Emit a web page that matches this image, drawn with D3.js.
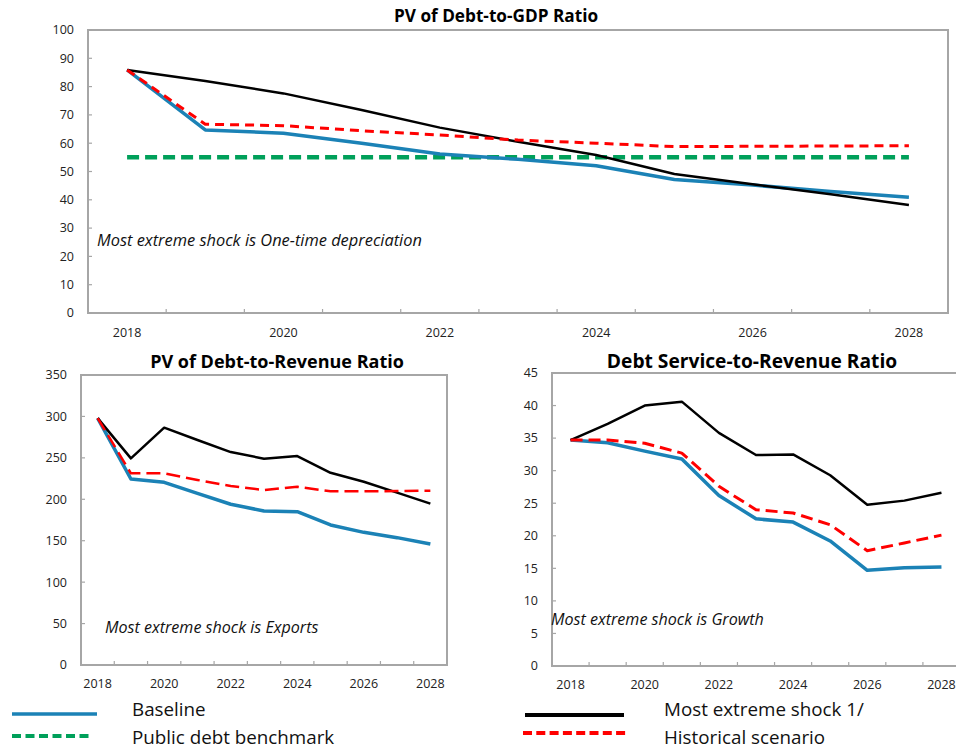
<!DOCTYPE html>
<html>
<head>
<meta charset="utf-8">
<script src="https://cdn.jsdelivr.net/npm/d3@7"></script>
<style>
  html, body { margin: 0; padding: 0; background: #fff; }
  svg { display: block; font-family: "Open Sans", "Noto Sans", sans-serif; }
</style>
</head>
<body>
<svg id="chart" width="956" height="750"></svg>
<script>
// ---------- Data ----------
const years = [2018, 2019, 2020, 2021, 2022, 2023, 2024, 2025, 2026, 2027, 2028];
const xTickLabels = [2018, 2020, 2022, 2024, 2026, 2028];

// PV of Debt-to-GDP Ratio
const gdpBaseline = [85.9, 64.7, 63.5, 60.0, 56.2, 54.3, 52.0, 47.2, 45.2, 42.9, 40.9];
const gdpShock    = [85.9, 82.0, 77.6, 71.7, 65.5, 60.5, 55.8, 49.1, 45.5, 42.0, 38.2];
const gdpHist     = [85.9, 66.7, 66.2, 64.4, 62.9, 61.1, 60.0, 58.8, 58.9, 59.0, 59.1];
const gdpBench    = [55, 55, 55, 55, 55, 55, 55, 55, 55, 55, 55];
const gdpTicks    = [0, 10, 20, 30, 40, 50, 60, 70, 80, 90, 100];

// PV of Debt-to-Revenue Ratio
const revBaseline = [298, 224.5, 220.5, 207.2, 194.0, 185.9, 185.0, 169.0, 160.1, 153.7, 146.0];
const revShock    = [298, 249.4, 286.4, 271.5, 257.0, 249.0, 252.2, 232.0, 221.2, 208.0, 194.7];
const revHist     = [298, 231.3, 231.3, 223.3, 216.0, 211.2, 215.2, 209.6, 209.6, 210.0, 210.4];
const revTicks    = [0, 50, 100, 150, 200, 250, 300, 350];

// Debt Service-to-Revenue Ratio
const dsBaseline = [34.7, 34.3, 33.0, 31.8, 26.2, 22.6, 22.1, 19.2, 14.7, 15.1, 15.2];
const dsShock    = [34.7, 37.2, 40.0, 40.6, 35.8, 32.4, 32.5, 29.3, 24.75, 25.4, 26.6];
const dsHist     = [34.7, 34.7, 34.2, 32.7, 27.6, 24.0, 23.5, 21.7, 17.7, 18.9, 20.1];
const dsTicks    = [0, 5, 10, 15, 20, 25, 30, 35, 40, 45];

const legendLabels = ["Baseline", "Public debt benchmark", "Most extreme shock 1/", "Historical scenario"];

// ---------- Styles ----------
const BLUE = "#1b82b6", GREEN = "#00a05a", RED = "#ff0000", BLACK = "#000000", FRAME = "#a6a6a6";

const svg = d3.select("#chart");

function panel(cfg) {
  const g = svg.append("g");
  const x = d3.scaleBand().domain(years).range([cfg.x0, cfg.x1]).padding(0);
  const y = d3.scaleLinear().domain([0, cfg.ymax]).range([cfg.y1, cfg.y0]);
  const cx = d => x(d) + x.bandwidth() / 2;

  // frame
  g.append("rect")
    .attr("x", cfg.x0).attr("y", cfg.y0)
    .attr("width", cfg.x1 - cfg.x0).attr("height", cfg.y1 - cfg.y0)
    .attr("fill", "none").attr("stroke", FRAME).attr("stroke-width", 2);

  // y ticks & labels
  cfg.yticks.forEach(t => {
    g.append("line")
      .attr("x1", cfg.x0).attr("x2", cfg.x0 + 4)
      .attr("y1", y(t)).attr("y2", y(t))
      .attr("stroke", FRAME).attr("stroke-width", 1.2);
    g.append("text")
      .attr("x", cfg.x0 - 14).attr("y", y(t))
      .attr("dy", "0.35em").attr("text-anchor", "end")
      .attr("font-size", 12.5).attr("fill", "#222")
      .text(t);
  });

  // x ticks (band boundaries) & labels
  years.slice(1).forEach(yr => {
    g.append("line")
      .attr("x1", x(yr)).attr("x2", x(yr))
      .attr("y1", cfg.y1).attr("y2", cfg.y1 - 4)
      .attr("stroke", FRAME).attr("stroke-width", 1.2);
  });
  xTickLabels.forEach(yr => {
    g.append("text")
      .attr("x", cx(yr)).attr("y", cfg.y1 + cfg.xlabOff)
      .attr("text-anchor", "middle").attr("dy", "0.35em")
      .attr("font-size", 12.5).attr("fill", "#222")
      .text(yr);
  });

  const line = d3.line().x((d, i) => cx(years[i])).y(d => y(d));

  cfg.series.forEach(s => {
    g.append("path")
      .datum(s.values)
      .attr("d", line)
      .attr("fill", "none")
      .attr("stroke", s.color)
      .attr("stroke-width", s.width)
      .attr("stroke-dasharray", s.dash || null)
      .attr("stroke-linejoin", "round");
  });

  // title
  g.append("text")
    .attr("x", cfg.titleX).attr("y", cfg.titleY)
    .attr("text-anchor", "middle").attr("dy", "0.35em")
    .attr("font-size", cfg.titleSize).attr("font-weight", "bold")
    .text(cfg.title);

  // annotation
  g.append("text")
    .attr("x", cfg.noteX).attr("y", cfg.noteY)
    .attr("dy", "0.35em")
    .attr("font-size", cfg.noteSize).attr("font-style", "italic").attr("fill", "#111")
    .text(cfg.note);
}

panel({
  x0: 88, x1: 948, y0: 30, y1: 313, ymax: 100, yticks: gdpTicks, xlabOff: 20,
  title: "PV of Debt-to-GDP Ratio", titleX: 496, titleY: 16, titleSize: 17.2,
  note: "Most extreme shock is One-time depreciation", noteX: 97, noteY: 240, noteSize: 16.4,
  series: [
    { values: gdpBench, color: GREEN, width: 4.5, dash: "12,6" },
    { values: gdpBaseline, color: BLUE, width: 3.5 },
    { values: gdpShock, color: BLACK, width: 2.5 },
    { values: gdpHist, color: RED, width: 3, dash: "9,6" }
  ]
});

panel({
  x0: 81, x1: 447, y0: 375, y1: 665, ymax: 350, yticks: revTicks, xlabOff: 19,
  title: "PV of Debt-to-Revenue Ratio", titleX: 277, titleY: 362, titleSize: 18,
  note: "Most extreme shock is Exports", noteX: 105, noteY: 627, noteSize: 16.1,
  series: [
    { values: revBaseline, color: BLUE, width: 3.5 },
    { values: revShock, color: BLACK, width: 2.5 },
    { values: revHist, color: RED, width: 2.5, dash: "14,6" }
  ]
});

panel({
  x0: 552, x1: 960, y0: 373, y1: 666, ymax: 45, yticks: dsTicks, xlabOff: 19,
  title: "Debt Service-to-Revenue Ratio", titleX: 752, titleY: 361, titleSize: 19.2,
  note: "Most extreme shock is Growth", noteX: 551, noteY: 619, noteSize: 16.1,
  series: [
    { values: dsBaseline, color: BLUE, width: 3.5 },
    { values: dsShock, color: BLACK, width: 2.5 },
    { values: dsHist, color: RED, width: 3, dash: "12,6" }
  ]
});

// ---------- Legend ----------
const legend = [
  { label: legendLabels[0], color: BLUE,  width: 3.5, dash: null,  x1: 12,  x2: 97,  ly: 714, tx: 132, ty: 709 },
  { label: legendLabels[1], color: GREEN, width: 4,   dash: "9,4.5", x1: 12, x2: 91, ly: 736, tx: 132, ty: 737 },
  { label: legendLabels[2], color: BLACK, width: 4,   dash: null,  x1: 525, x2: 624, ly: 715, tx: 664, ty: 709 },
  { label: legendLabels[3], color: RED,   width: 4,   dash: "9,4.3", x1: 523, x2: 626, ly: 733, tx: 664, ty: 737 }
];
const lg = svg.append("g");
legend.forEach(d => {
  lg.append("line")
    .attr("x1", d.x1).attr("x2", d.x2).attr("y1", d.ly).attr("y2", d.ly)
    .attr("stroke", d.color).attr("stroke-width", d.width)
    .attr("stroke-dasharray", d.dash);
  lg.append("text")
    .attr("x", d.tx).attr("y", d.ty).attr("dy", "0.35em")
    .attr("font-size", 18.8).attr("fill", "#111")
    .text(d.label);
});
</script>
</body>
</html>
